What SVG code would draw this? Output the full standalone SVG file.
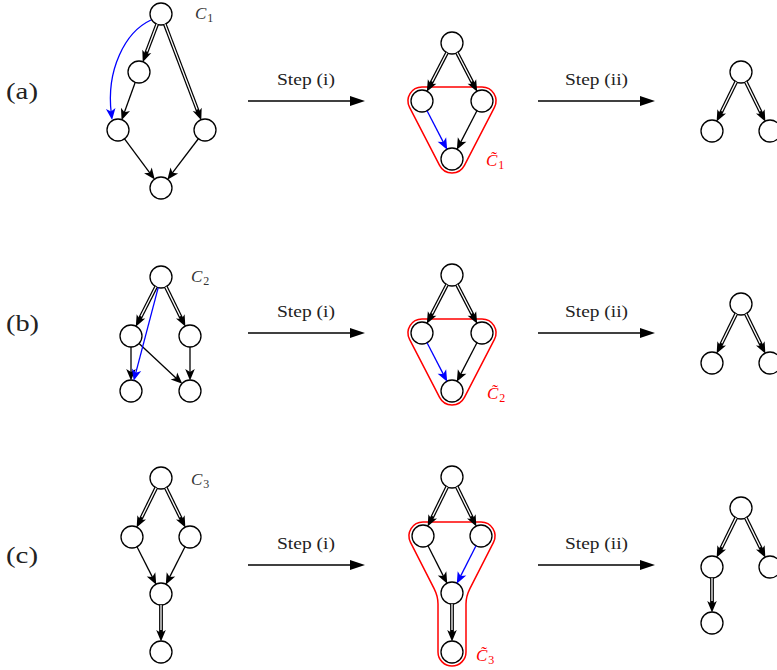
<svg xmlns="http://www.w3.org/2000/svg" width="777" height="670" viewBox="0 0 777 670">
<style>
.n circle{fill:#fff;stroke:#000;stroke-width:1.3}
.e{stroke:#000;stroke-width:1.3;fill:none;marker-end:url(#ah)}
.eb{stroke:#0000ff;stroke-width:1.3;fill:none;marker-end:url(#ahb)}
.dbo{stroke:#000;stroke-width:3.8;fill:none;marker-end:url(#ah)}
.dbi{stroke:#fff;stroke-width:1.3;fill:none}
.step{stroke:#000;stroke-width:1.3;fill:none;marker-end:url(#big)}
.hull{fill:none;stroke:#ff0000;stroke-width:1.5}
.lbl{font-family:"Liberation Serif",serif;font-size:24px;fill:#222}
.st{font-family:"Liberation Serif",serif;font-size:16px;fill:#222}
.cl{font-family:"Liberation Serif",serif;font-style:italic;font-size:17px;fill:#333}
.cr{font-family:"Liberation Serif",serif;font-style:italic;font-size:17px;fill:#ff0000}
.sub{font-style:normal;font-size:12px}
</style>
<defs>
<marker id="ah" viewBox="-6 -6 14 12" markerWidth="14" markerHeight="12" refX="0" refY="0" orient="auto" markerUnits="userSpaceOnUse"><path d="M6.5,0 L-5,-4.8 L-2,0 L-5,4.8 Z" fill="#000"/></marker>
<marker id="ahb" viewBox="-6 -6 14 12" markerWidth="14" markerHeight="12" refX="0" refY="0" orient="auto" markerUnits="userSpaceOnUse"><path d="M6.5,0 L-5,-4.8 L-2,0 L-5,4.8 Z" fill="#0000ff"/></marker>
<marker id="big" viewBox="-6 -6 17 12" markerWidth="17" markerHeight="12" refX="0" refY="0" orient="auto" markerUnits="userSpaceOnUse"><path d="M10,0 L-5,-5 L-5,5 Z" fill="#000"/></marker>
</defs>

<g id="row-labels">
<text class="lbl" x="6" y="99" textLength="32" lengthAdjust="spacingAndGlyphs">(a)</text>
<text class="lbl" x="6" y="331" textLength="33" lengthAdjust="spacingAndGlyphs">(b)</text>
<text class="lbl" x="6" y="563" textLength="32" lengthAdjust="spacingAndGlyphs">(c)</text>
</g>

<g id="steps">
<path class="step" d="M248,101 L355,101"/>
<text class="st" x="306" y="85" text-anchor="middle" textLength="58" lengthAdjust="spacingAndGlyphs">Step (i)</text>
<path class="step" d="M538,101 L645,101"/>
<text class="st" x="596.5" y="85" text-anchor="middle" textLength="63" lengthAdjust="spacingAndGlyphs">Step (ii)</text>
<path class="step" d="M248,333 L355,333"/>
<text class="st" x="306" y="317" text-anchor="middle" textLength="58" lengthAdjust="spacingAndGlyphs">Step (i)</text>
<path class="step" d="M538,333 L645,333"/>
<text class="st" x="596.5" y="317" text-anchor="middle" textLength="63" lengthAdjust="spacingAndGlyphs">Step (ii)</text>
<path class="step" d="M248,565 L355,565"/>
<text class="st" x="306" y="549" text-anchor="middle" textLength="58" lengthAdjust="spacingAndGlyphs">Step (i)</text>
<path class="step" d="M538,565 L645,565"/>
<text class="st" x="596.5" y="549" text-anchor="middle" textLength="63" lengthAdjust="spacingAndGlyphs">Step (ii)</text>
</g>

<g id="hulls">
<path class="hull" d="M422,87 L482,87 A14,14 0 0 1 494.43,107.43 L464.43,165.43 A14,14 0 0 1 439.57,165.43 L409.57,107.43 A14,14 0 0 1 422,87 Z"/>
<path class="hull" d="M422,319 L482,319 A14,14 0 0 1 494.43,339.43 L464.43,397.43 A14,14 0 0 1 439.57,397.43 L409.57,339.43 A14,14 0 0 1 422,319 Z"/>
<path class="hull" d="M423,522 L481,522 A14,14 0 0 1 493.48,542.35 L469.9,588.7 Q466,596.4 466,604 L466,652 A14,14 0 0 1 438,652 L438,604 Q438,596.4 434.1,588.7 L410.52,542.35 A14,14 0 0 1 423,522 Z"/>
</g>

<g id="graph-labels">
<text class="cl" x="195" y="19">C<tspan class="sub" dx="1" dy="3">1</tspan></text>
<text class="cl" x="191" y="282">C<tspan class="sub" dx="1" dy="3">2</tspan></text>
<text class="cl" x="191" y="485">C<tspan class="sub" dx="1" dy="3">3</tspan></text>
<text class="cr" x="486" y="166">C̃<tspan class="sub" dx="1" dy="3">1</tspan></text>
<text class="cr" x="487" y="399">C̃<tspan class="sub" dx="1" dy="3">2</tspan></text>
<text class="cr" x="476" y="661">C̃<tspan class="sub" dx="1" dy="3">3</tspan></text>
</g>

<g id="nodes">
<g id="a1-top" class="n"><circle cx="161" cy="14" r="11"/></g>
<g id="a1-midleft" class="n"><circle cx="139" cy="72" r="11"/></g>
<g id="a1-left" class="n"><circle cx="118" cy="130" r="11"/></g>
<g id="a1-right" class="n"><circle cx="205" cy="130" r="11"/></g>
<g id="a1-bottom" class="n"><circle cx="161" cy="188" r="11"/></g>

<g id="a2-top" class="n"><circle cx="452" cy="43" r="11"/></g>
<g id="a2-left" class="n"><circle cx="422" cy="101" r="11"/></g>
<g id="a2-right" class="n"><circle cx="482" cy="101" r="11"/></g>
<g id="a2-bottom" class="n"><circle cx="452" cy="159" r="11"/></g>

<g id="a3-top" class="n"><circle cx="741" cy="72" r="11"/></g>
<g id="a3-left" class="n"><circle cx="712" cy="131" r="11"/></g>
<g id="a3-right" class="n"><circle cx="770" cy="131" r="11"/></g>

<g id="b1-top" class="n"><circle cx="161" cy="277" r="11"/></g>
<g id="b1-midleft" class="n"><circle cx="131" cy="336" r="11"/></g>
<g id="b1-midright" class="n"><circle cx="190" cy="336" r="11"/></g>
<g id="b1-botleft" class="n"><circle cx="131" cy="391" r="11"/></g>
<g id="b1-botright" class="n"><circle cx="190" cy="391" r="11"/></g>

<g id="b2-top" class="n"><circle cx="452" cy="275" r="11"/></g>
<g id="b2-left" class="n"><circle cx="422" cy="333" r="11"/></g>
<g id="b2-right" class="n"><circle cx="482" cy="333" r="11"/></g>
<g id="b2-bottom" class="n"><circle cx="452" cy="391" r="11"/></g>

<g id="b3-top" class="n"><circle cx="741" cy="304" r="11"/></g>
<g id="b3-left" class="n"><circle cx="712" cy="363" r="11"/></g>
<g id="b3-right" class="n"><circle cx="770" cy="363" r="11"/></g>

<g id="c1-top" class="n"><circle cx="161" cy="478" r="11"/></g>
<g id="c1-midleft" class="n"><circle cx="132" cy="537" r="11"/></g>
<g id="c1-midright" class="n"><circle cx="190" cy="537" r="11"/></g>
<g id="c1-mid" class="n"><circle cx="161" cy="594" r="11"/></g>
<g id="c1-bottom" class="n"><circle cx="161" cy="652" r="11"/></g>

<g id="c2-top" class="n"><circle cx="452" cy="477" r="11"/></g>
<g id="c2-left" class="n"><circle cx="423" cy="536" r="11"/></g>
<g id="c2-right" class="n"><circle cx="481" cy="536" r="11"/></g>
<g id="c2-mid" class="n"><circle cx="452" cy="593" r="11"/></g>
<g id="c2-bottom" class="n"><circle cx="452" cy="652" r="11"/></g>

<g id="c3-top" class="n"><circle cx="741" cy="508" r="11"/></g>
<g id="c3-left" class="n"><circle cx="712" cy="567" r="11"/></g>
<g id="c3-right" class="n"><circle cx="770" cy="567" r="11"/></g>
<g id="c3-bottom" class="n"><circle cx="712" cy="623" r="11"/></g>
</g>

<g id="connectors">
<!-- a1 -->
<path class="dbo" d="M157.1,24.3 L145.03,56.09"/><path class="dbi" d="M157.1,24.3 L146.8,51.4"/>
<path class="dbo" d="M164.9,24.3 L198.97,114.09"/><path class="dbi" d="M164.9,24.3 L197.2,109.4"/>
<path class="eb" d="M151,20 C125,32 106,70 111.3,113.5"/>
<path class="e" d="M135.25,82.34 L123.79,114.02"/>
<path class="e" d="M124.55,138.84 L150.88,174.34"/>
<path class="e" d="M198.35,138.76 L171.28,174.46"/>
<!-- a2 -->
<path class="dbo" d="M446.95,52.77 L429.81,85.9"/><path class="dbi" d="M446.95,52.77 L432.1,81.5"/>
<path class="dbo" d="M457.05,52.77 L474.19,85.9"/><path class="dbi" d="M457.05,52.77 L471.9,81.5"/>
<path class="eb" d="M427.05,110.77 L444.19,143.9"/>
<path class="e" d="M476.95,110.77 L459.81,143.9"/>
<!-- a3 -->
<path class="dbo" d="M736.15,81.87 L719.5,115.75"/><path class="dbi" d="M736.15,81.87 L721.7,111.3"/>
<path class="dbo" d="M745.85,81.87 L762.5,115.75"/><path class="dbi" d="M745.85,81.87 L760.3,111.3"/>
<!-- b1 -->
<path class="dbo" d="M156.01,286.81 L138.71,320.84"/><path class="dbi" d="M156.01,286.81 L141,316.4"/>
<path class="dbo" d="M165.85,286.87 L182.5,320.75"/><path class="dbi" d="M165.85,286.87 L180.3,316.3"/>
<path class="e" d="M131,347 L131,374"/>
<path class="e" d="M139.05,343.5 L177.56,379.41"/>
<path class="e" d="M190,347 L190,374"/>
<path class="eb" d="M158.2,287.64 L135.33,374.56"/>
<!-- b2 -->
<path class="dbo" d="M446.95,284.77 L429.81,317.9"/><path class="dbi" d="M446.95,284.77 L432.1,313.5"/>
<path class="dbo" d="M457.05,284.77 L474.19,317.9"/><path class="dbi" d="M457.05,284.77 L471.9,313.5"/>
<path class="eb" d="M427.05,342.77 L444.19,375.9"/>
<path class="e" d="M476.95,342.77 L459.81,375.9"/>
<!-- b3 -->
<path class="dbo" d="M736.15,313.87 L719.5,347.75"/><path class="dbi" d="M736.15,313.87 L721.7,343.3"/>
<path class="dbo" d="M745.85,313.87 L762.5,347.75"/><path class="dbi" d="M745.85,313.87 L760.3,343.3"/>
<!-- c1 -->
<path class="dbo" d="M156.15,487.87 L139.5,521.75"/><path class="dbi" d="M156.15,487.87 L141.7,517.3"/>
<path class="dbo" d="M165.85,487.87 L182.5,521.75"/><path class="dbi" d="M165.85,487.87 L180.3,517.3"/>
<path class="e" d="M136.99,546.8 L153.29,578.85"/>
<path class="e" d="M185.01,546.8 L168.71,578.85"/>
<path class="dbo" d="M161,605 L161,635"/><path class="dbi" d="M161,605 L161,630"/>
<!-- c2 -->
<path class="dbo" d="M447.15,486.87 L430.5,520.75"/><path class="dbi" d="M447.15,486.87 L432.7,516.3"/>
<path class="dbo" d="M456.85,486.87 L473.5,520.75"/><path class="dbi" d="M456.85,486.87 L471.3,516.3"/>
<path class="e" d="M427.99,545.8 L444.29,577.85"/>
<path class="eb" d="M476.01,545.8 L459.71,577.85"/>
<path class="dbo" d="M452,604 L452,635"/><path class="dbi" d="M452,604 L452,630"/>
<!-- c3 -->
<path class="dbo" d="M736.15,517.87 L719.5,551.75"/><path class="dbi" d="M736.15,517.87 L721.7,547.3"/>
<path class="dbo" d="M745.85,517.87 L762.5,551.75"/><path class="dbi" d="M745.85,517.87 L760.3,547.3"/>
<path class="dbo" d="M712,578 L712,606"/><path class="dbi" d="M712,578 L712,601"/>
</g>
</svg>
